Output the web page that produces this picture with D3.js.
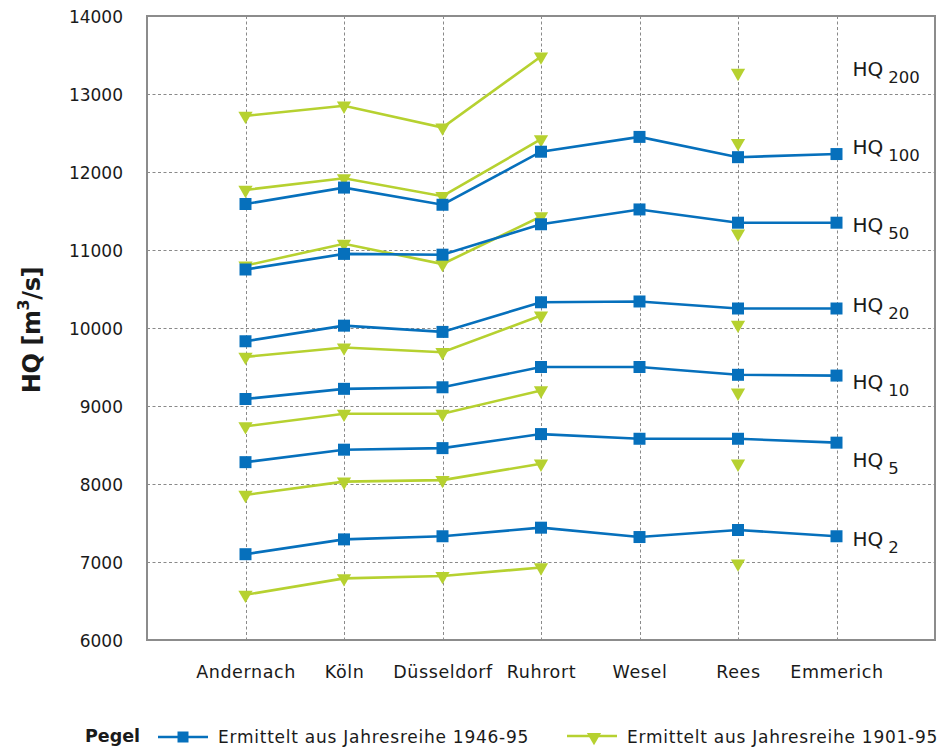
<!DOCTYPE html>
<html>
<head>
<meta charset="utf-8">
<script src="https://cdn.jsdelivr.net/npm/d3@7"></script>
<style>
  html, body { margin: 0; padding: 0; background: #fff; }
  svg { display: block; font-family: "DejaVu Sans", sans-serif; }
</style>
</head>
<body>
<svg id="chart" width="947" height="749"></svg>
<script>
// Gauging stations along the Rhine
const stations = ["Andernach", "Köln", "Düsseldorf", "Ruhrort", "Wesel", "Rees", "Emmerich"];

// Flood discharges HQ [m³/s] from the 1946-95 series
const q1946_hq100 = [11590, 11800, 11580, 12260, 12450, 12190, 12230];
const q1946_hq50  = [10750, 10950, 10940, 11330, 11520, 11350, 11350];
const q1946_hq20  = [9830, 10030, 9950, 10330, 10340, 10250, 10250];
const q1946_hq10  = [9090, 9220, 9240, 9500, 9500, 9400, 9390];
const q1946_hq5   = [8280, 8440, 8460, 8640, 8580, 8580, 8530];
const q1946_hq2   = [7100, 7290, 7330, 7440, 7320, 7410, 7330];

// Flood discharges HQ [m³/s] from the 1901-95 series (no values for Wesel, Emmerich)
const q1901_hq200 = [12720, 12850, 12570, 13480, null, 13270, null];
const q1901_hq100 = [11770, 11920, 11690, 12420, null, 12370, null];
const q1901_hq50  = [10800, 11080, 10820, 11430, null, 11210, null];
const q1901_hq20  = [9630, 9750, 9690, 10160, null, 10040, null];
const q1901_hq10  = [8740, 8900, 8900, 9200, null, 9170, null];
const q1901_hq5   = [7860, 8030, 8050, 8260, null, 8260, null];
const q1901_hq2   = [6580, 6790, 6820, 6930, null, 6980, null];

// Return periods and the level at which each HQ label sits
const returnPeriods = ["200", "100", "50", "20", "10", "5", "2"];
const labelLevels   = [13230, 12229, 11225, 10206, 9214, 8217, 7209];

const yTicks = [6000, 7000, 8000, 9000, 10000, 11000, 12000, 13000, 14000];

const series1946 = [q1946_hq100, q1946_hq50, q1946_hq20, q1946_hq10, q1946_hq5, q1946_hq2];
const series1901 = [q1901_hq200, q1901_hq100, q1901_hq50, q1901_hq20, q1901_hq10, q1901_hq5, q1901_hq2];

const BLUE = "#0670bc";
const GREEN = "#b6d130";
const GRID = "#8a8a8a";

const plot = { left: 147, right: 935, top: 16, bottom: 640 };

const svg = d3.select("#chart");

const x = d3.scalePoint().domain(stations).range([plot.left, plot.right]).padding(1);
const y = d3.scaleLinear().domain([6000, 14000]).range([plot.bottom, plot.top]);

// Grid
const grid = svg.append("g").attr("stroke", GRID).attr("stroke-width", 1)
  .attr("stroke-dasharray", "3,2.5").attr("fill", "none");
grid.selectAll("line.h").data(yTicks.filter(t => t > 6000 && t < 14000)).join("line")
  .attr("class", "h")
  .attr("x1", plot.left).attr("x2", plot.right)
  .attr("y1", d => Math.round(y(d)) + 0.5).attr("y2", d => Math.round(y(d)) + 0.5);
grid.selectAll("line.v").data(stations).join("line")
  .attr("class", "v")
  .attr("x1", d => Math.round(x(d)) + 0.5).attr("x2", d => Math.round(x(d)) + 0.5)
  .attr("y1", plot.top).attr("y2", plot.bottom);

// Frame
svg.append("rect")
  .attr("x", plot.left).attr("y", plot.top)
  .attr("width", plot.right - plot.left).attr("height", plot.bottom - plot.top)
  .attr("fill", "none").attr("stroke", "#8c8c8c").attr("stroke-width", 2);

// Y axis
const yAxis = svg.append("g")
  .attr("transform", `translate(${plot.left},0)`)
  .call(d3.axisLeft(y).tickValues(yTicks).tickSize(0).tickPadding(24).tickFormat(d3.format("d")));
yAxis.select(".domain").remove();
yAxis.selectAll("text").attr("font-size", 17).attr("fill", "#1a1a1a")
  .attr("font-family", "DejaVu Sans, sans-serif").attr("dy", "0.36em");

// X axis
const xAxis = svg.append("g")
  .attr("transform", `translate(0,${plot.bottom})`)
  .call(d3.axisBottom(x).tickSize(0).tickPadding(0));
xAxis.select(".domain").remove();
xAxis.selectAll("text").attr("font-size", 17.5).attr("fill", "#1a1a1a")
  .attr("font-family", "DejaVu Sans, sans-serif")
  .attr("y", 38).attr("dy", 0).attr("letter-spacing", 0.6);

// Y axis title
svg.append("text")
  .attr("transform", "translate(40,330) rotate(-90)")
  .attr("text-anchor", "middle")
  .attr("font-size", 24).attr("font-weight", "bold").attr("fill", "#1a1a1a")
  .attr("letter-spacing", -0.4)
  .attr("font-family", "DejaVu Sans, sans-serif")
  .call(t => {
    t.append("tspan").text("HQ [m");
    t.append("tspan").attr("font-size", 16).attr("dy", -11).text("3");
    t.append("tspan").attr("dy", 11).text("/s]");
  });

const line = d3.line()
  .defined(d => d != null)
  .x((d, i) => x(stations[i]))
  .y(d => y(d));

const triangle = d3.symbol().type(d3.symbolTriangle).size(88)();
const square = d3.symbol().type(d3.symbolSquare).size(144)();

// 1901-95 series (green, triangles)
const gGreen = svg.append("g");
gGreen.selectAll("path.line").data(series1901).join("path")
  .attr("class", "line")
  .attr("d", line).attr("fill", "none")
  .attr("stroke", GREEN).attr("stroke-width", 2.6);
series1901.forEach(s => {
  gGreen.append("g").selectAll("path").data(s.map((v, i) => ({ v, i })).filter(d => d.v != null)).join("path")
    .attr("d", triangle)
    .attr("transform", d => `translate(${x(stations[d.i])},${y(d.v)}) rotate(180)`)
    .attr("fill", GREEN);
});

// 1946-95 series (blue, squares)
const gBlue = svg.append("g");
gBlue.selectAll("path.line").data(series1946).join("path")
  .attr("class", "line")
  .attr("d", line).attr("fill", "none")
  .attr("stroke", BLUE).attr("stroke-width", 2.6);
series1946.forEach(s => {
  gBlue.append("g").selectAll("path").data(s.map((v, i) => ({ v, i }))).join("path")
    .attr("d", square)
    .attr("transform", d => `translate(${x(stations[d.i])},${y(d.v)})`)
    .attr("fill", BLUE);
});

// HQ labels at the right
const labels = svg.append("g").attr("font-family", "DejaVu Sans, sans-serif").attr("fill", "#1a1a1a");
returnPeriods.forEach((p, i) => {
  const t = labels.append("text")
    .attr("x", x(stations[stations.length - 1]) + 16)
    .attr("y", y(labelLevels[i]))
    .attr("font-size", 20);
  t.append("tspan").text("HQ");
  t.append("tspan").attr("dx", 5).attr("dy", 7).attr("font-size", 16.5).text(p);
});

// Legend
const legend = svg.append("g").attr("font-family", "DejaVu Sans, sans-serif").attr("fill", "#1a1a1a");
legend.append("text").attr("x", 85).attr("y", 742).attr("font-size", 17.5).attr("font-weight", "bold").text("Pegel");
legend.append("line").attr("x1", 158).attr("x2", 208).attr("y1", 737).attr("y2", 737)
  .attr("stroke", BLUE).attr("stroke-width", 2.6);
legend.append("path").attr("d", d3.symbol().type(d3.symbolSquare).size(121)())
  .attr("transform", "translate(183,737)").attr("fill", BLUE);
legend.append("text").attr("x", 218).attr("y", 743).attr("font-size", 17).attr("letter-spacing", 0.75)
  .text("Ermittelt aus Jahresreihe 1946-95");
legend.append("line").attr("x1", 567).attr("x2", 617).attr("y1", 736).attr("y2", 736)
  .attr("stroke", GREEN).attr("stroke-width", 2.6);
legend.append("path").attr("d", triangle)
  .attr("transform", "translate(594,737) rotate(180)").attr("fill", GREEN);
legend.append("text").attr("x", 627).attr("y", 743).attr("font-size", 17).attr("letter-spacing", 0.75)
  .text("Ermittelt aus Jahresreihe 1901-95");
</script>
</body>
</html>
